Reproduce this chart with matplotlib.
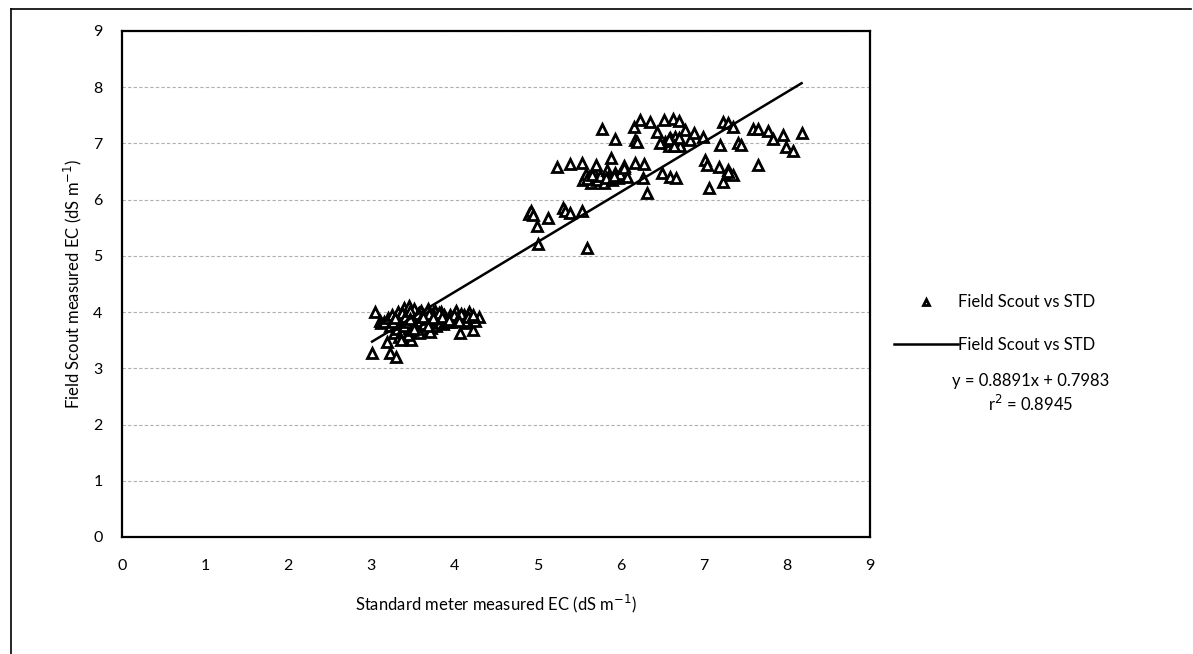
import numpy as np
import matplotlib.pyplot as plt
from matplotlib.lines import Line2D

plt.rcParams['font.family'] = ['Lato', 'DejaVu Sans']

# Low-EC group (standard meter, field scout)
low_x = [3.01, 3.05, 3.10, 3.12, 3.15, 3.19, 3.20, 3.22, 3.23, 3.25, 3.27, 3.28,
         3.30, 3.31, 3.32, 3.33, 3.35, 3.36, 3.38, 3.40, 3.40, 3.42, 3.43, 3.45,
         3.46, 3.48, 3.50, 3.50, 3.52, 3.54, 3.55, 3.57, 3.58, 3.60, 3.62, 3.63,
         3.65, 3.67, 3.68, 3.70, 3.72, 3.74, 3.75, 3.77, 3.78, 3.80, 3.82, 3.84,
         3.86, 3.88, 3.90, 3.92, 3.95, 3.97, 4.00, 4.02, 4.05, 4.07, 4.10, 4.12,
         4.15, 4.18, 4.20, 4.23, 4.25, 4.30, 3.44, 3.36, 3.58, 3.71,
         3.34, 3.37, 3.39, 3.41, 3.44, 3.47, 3.49, 3.51, 3.53, 3.56, 3.59, 3.61,
         3.64, 3.66, 3.69, 3.73, 3.76, 3.79, 3.81, 3.83, 3.87, 3.89, 3.93, 3.96,
         3.99, 4.03, 4.08, 4.13, 4.17, 3.26, 3.29, 3.47, 3.52, 3.62, 3.68, 3.74,
         3.85, 3.94, 4.06, 4.22]
low_y = [3.27, 4.00, 3.85, 3.80, 3.82, 3.47, 3.90, 3.75, 3.27, 3.95, 3.62, 3.85,
         3.20, 3.70, 4.00, 3.55, 3.92, 3.78, 3.65, 4.08, 3.85, 3.55, 3.98, 4.10,
         3.72, 3.50, 3.95, 3.80, 4.05, 3.65, 3.90, 3.98, 3.75, 4.02, 3.85, 3.70,
         3.95, 3.80, 4.05, 3.90, 3.72, 3.98, 3.85, 4.02, 3.75, 3.92, 3.85, 4.00,
         3.78, 3.95, 3.88, 3.82, 3.95, 3.90, 3.85, 4.02, 3.92, 3.63, 3.88, 3.95,
         3.80, 4.00, 3.90, 3.68, 3.85, 3.92, 3.60, 3.50, 3.62, 3.65,
         3.85, 3.98, 3.75, 3.92, 3.82, 4.02, 3.68, 3.88, 3.78, 3.96, 3.84, 3.92,
         3.78, 3.88, 3.96, 3.82, 3.93, 3.86, 3.98, 3.80, 3.90, 3.84, 3.88, 3.82,
         3.95, 3.85, 3.96, 3.85, 3.92, 3.82, 3.90, 3.88, 3.70, 3.92, 3.76, 3.90,
         3.92, 3.86, 3.84, 3.95]

# High-EC group
high_x = [4.90, 4.92, 4.95, 4.99, 5.01, 5.13, 5.24, 5.31, 5.33, 5.39, 5.39, 5.54,
          5.54, 5.60, 5.55, 5.58, 5.62, 5.65, 5.68, 5.70, 5.72, 5.75, 5.78, 5.80,
          5.84, 5.85, 5.89, 5.90, 5.94, 5.94, 5.97, 6.00, 6.04, 6.04, 6.08, 6.16,
          6.18, 6.18, 6.20, 6.23, 6.27, 6.28, 6.32, 6.36, 6.44, 6.50, 6.52, 6.54,
          6.56, 6.58, 6.60, 6.62, 6.63, 6.65, 6.67, 6.69, 6.70, 6.72, 6.78, 6.84,
          6.88, 6.99, 7.02, 7.04, 7.06, 7.18, 7.20, 7.24, 7.24, 7.29, 7.30, 7.32,
          7.36, 7.36, 7.41, 7.45, 7.59, 7.65, 7.66, 7.77, 7.84, 7.96, 7.99, 8.08,
          8.18, 6.48, 6.60, 6.66, 7.30, 5.60, 5.66, 5.82, 5.92, 6.58, 6.64, 6.70]
high_y = [5.75, 5.80, 5.72, 5.53, 5.21, 5.67, 6.58, 5.85, 5.80, 5.76, 6.63, 5.80,
          6.65, 5.14, 6.35, 6.45, 6.40, 6.30, 6.48, 6.61, 6.35, 6.42, 7.25, 6.30,
          6.52, 6.40, 6.74, 6.35, 7.08, 6.47, 6.38, 6.45, 6.60, 6.56, 6.40, 7.29,
          7.06, 6.65, 7.02, 7.42, 6.38, 6.63, 6.11, 7.38, 7.20, 6.47, 7.41, 7.02,
          7.00, 6.95, 6.40, 7.05, 7.43, 6.98, 6.38, 7.02, 7.40, 6.95, 7.24, 7.06,
          7.18, 7.11, 6.70, 6.62, 6.20, 6.58, 6.97, 7.38, 6.31, 6.52, 7.36, 6.45,
          7.29, 6.44, 7.00, 6.97, 7.25, 6.61, 7.25, 7.22, 7.08, 7.15, 6.93, 6.86,
          7.18, 7.00, 7.10, 7.12, 6.50, 6.36, 6.44, 6.38, 6.42, 7.08, 6.96, 7.10]

slope, intercept = 0.8891, 0.7983
r2 = 0.8945

x = np.array(low_x + high_x)
y = np.array(low_y + high_y)

fig = plt.figure(figsize=(11.93, 6.54), dpi=100)
ax = fig.add_axes([0.1023, 0.179, 0.6267, 0.7736])

ax.plot(x, y, linestyle='none', marker='^', markersize=7.5, markerfacecolor='white',
        markeredgecolor='black', markeredgewidth=2.0, label='Field Scout vs STD')
xf = np.linspace(x.min(), x.max(), 2)
ax.plot(xf, slope * xf + intercept, color='black', linewidth=1.8, label='Field Scout vs STD')

ax.set_xlim(0, 9)
ax.set_ylim(0, 9)
ax.set_xticks(range(10))
ax.set_yticks(range(10))
ax.tick_params(length=0, labelsize=11.5)
ax.tick_params(axis='x', pad=16)
ax.tick_params(axis='y', pad=14)
ax.yaxis.grid(True, color='#b0b0b0', linestyle=(0, (3, 2)), linewidth=0.8)
ax.set_axisbelow(True)
for s in ax.spines.values():
    s.set_linewidth(1.6)

ax.set_xlabel('Standard meter measured EC (dS m$^{-1}$)', fontsize=12, labelpad=14)
ax.set_ylabel('Field Scout measured EC (dS m$^{-1}$)', fontsize=12, labelpad=7)

leg = ax.legend(loc='center left', bbox_to_anchor=(0.737, 0.505), bbox_transform=fig.transFigure,
                frameon=False, fontsize=12, labelspacing=1.6, handlelength=3.8,
                handletextpad=0.05, markerscale=0.65)

fig.text(0.864, 0.418, 'y = 0.8891x + 0.7983', ha='center', va='center', fontsize=12)
fig.text(0.864, 0.383, 'r$^2$ = %.4f' % r2, ha='center', va='center', fontsize=12)

# outer border of the chart area
fig.add_artist(Line2D([0.009, 0.009], [0.0, 0.986], color='black', linewidth=1.2))
fig.add_artist(Line2D([0.009, 0.998], [0.986, 0.986], color='black', linewidth=1.2))

fig.savefig('out.png', dpi=100)
